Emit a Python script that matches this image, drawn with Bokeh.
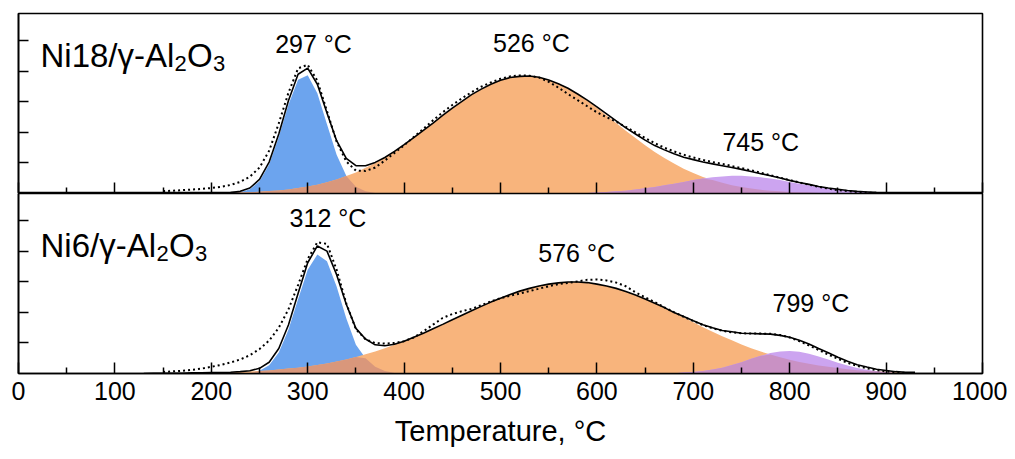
import numpy as np
from bokeh.plotting import figure
from bokeh.layouts import column
from bokeh.models import (ColumnDataSource, Range1d, SingleIntervalTicker,
                          FixedTicker, Label, LinearAxis)
from bokeh.embed import file_html
from bokeh.resources import INLINE

nan = float("nan")

# ---------------- data (temperature grid, deg C) ----------------
temps = [130, 140, 150, 160, 170, 180, 190, 200, 210, 220,
         230, 240, 250, 260, 270, 280, 290, 300, 310, 320,
         330, 340, 350, 360, 370, 380, 390, 400, 410, 420,
         430, 440, 450, 460, 470, 480, 490, 500, 510, 520,
         530, 540, 550, 560, 570, 580, 590, 600, 610, 620,
         630, 640, 650, 660, 670, 680, 690, 700, 710, 720,
         730, 740, 750, 760, 770, 780, 790, 800, 810, 820,
         830, 840, 850, 860, 870, 880, 890, 900, 910, 920,
         930]

# Ni18/gamma-Al2O3 (top panel)
ni18_peak1 = [0, 0, 0, 0, 0, 0, 0, 0, 0, 0.01,
              0.04, 0.14, 0.40, 0.95, 1.85, 2.91, 3.73, 3.88, 3.29, 2.27,
              1.27, 0.58, 0.22, 0.07, 0.02, 0, 0, 0, 0, 0,
              0, 0, 0, 0, 0, 0, 0, 0, 0, 0,
              0, 0, 0, 0, 0, 0, 0, 0, 0, 0,
              0, 0, 0, 0, 0, 0, 0, 0, 0, 0,
              0, 0, 0, 0, 0, 0, 0, 0, 0, 0,
              0, 0, 0, 0, 0, 0, 0, 0, 0, 0,
              0]
ni18_peak2 = [0, 0, 0, 0, 0, 0.01, 0.01, 0.01, 0.02, 0.02,
              0.03, 0.04, 0.06, 0.08, 0.10, 0.13, 0.18, 0.23, 0.29, 0.37,
              0.46, 0.57, 0.69, 0.84, 1.00, 1.18, 1.38, 1.60, 1.83, 2.07,
              2.31, 2.56, 2.80, 3.02, 3.24, 3.42, 3.58, 3.71, 3.80, 3.84,
              3.85, 3.81, 3.72, 3.60, 3.44, 3.25, 3.04, 2.81, 2.56, 2.31,
              2.06, 1.82, 1.58, 1.36, 1.16, 0.98, 0.81, 0.67, 0.54, 0.44,
              0.35, 0.27, 0.21, 0.16, 0.12, 0.09, 0.07, 0.05, 0.04, 0.03,
              0.02, 0.01, 0.01, 0.01, 0, 0, 0, 0, 0, 0,
              0]
ni18_peak3 = [0, 0, 0, 0, 0, 0, 0, 0, 0, 0,
              0, 0, 0, 0, 0, 0, 0, 0, 0, 0,
              0, 0, 0, 0, 0, 0, 0, 0, 0, 0,
              0, 0, 0, 0, 0, 0, 0, 0, 0, 0,
              0, 0, 0, 0, 0.01, 0.01, 0.02, 0.03, 0.05, 0.07,
              0.09, 0.13, 0.17, 0.21, 0.27, 0.32, 0.38, 0.44, 0.49, 0.53,
              0.56, 0.58, 0.58, 0.56, 0.53, 0.49, 0.44, 0.38, 0.32, 0.27,
              0.21, 0.17, 0.13, 0.09, 0.07, 0.05, 0.03, 0.02, 0.01, 0.01,
              0]
ni18_measured = [nan, nan, 0.08, 0.09, 0.11, 0.13, 0.15, 0.18, 0.22, 0.28,
                 0.38, 0.55, 0.85, 1.40, 2.30, 3.30, 4.10, 4.22, 3.70, 2.70,
                 1.70, 1.05, 0.75, 0.74, 0.85, 1.08, 1.33, 1.58, 1.85, 2.12,
                 2.40, 2.66, 2.90, 3.12, 3.32, 3.50, 3.64, 3.76, 3.84, 3.87,
                 3.86, 3.80, 3.66, 3.47, 3.26, 3.06, 2.86, 2.66, 2.50, 2.36,
                 2.18, 2.00, 1.82, 1.65, 1.50, 1.38, 1.27, 1.18, 1.10, 1.03,
                 0.97, 0.90, 0.83, 0.76, 0.68, 0.60, 0.52, 0.44, 0.36, 0.29,
                 0.22, 0.16, 0.11, 0.08, 0.05, 0.03, 0.02, 0.01, 0, 0,
                 0]

# Ni6/gamma-Al2O3 (bottom panel)
ni6_peak1 = [0, 0, 0, 0, 0, 0, 0, 0, 0, 0,
             0.01, 0.02, 0.09, 0.27, 0.69, 1.43, 2.43, 3.40, 3.90, 3.68,
             2.85, 1.81, 0.94, 0.50, 0.22, 0.08, 0.02, 0, 0, 0,
             0, 0, 0, 0, 0, 0, 0, 0, 0, 0,
             0, 0, 0, 0, 0, 0, 0, 0, 0, 0,
             0, 0, 0, 0, 0, 0, 0, 0, 0, 0,
             0, 0, 0, 0, 0, 0, 0, 0, 0, 0,
             0, 0, 0, 0, 0, 0, 0, 0, 0, 0,
             0]
ni6_peak2 = [0, 0.01, 0.01, 0.01, 0.01, 0.02, 0.02, 0.03, 0.03, 0.04,
             0.05, 0.07, 0.08, 0.10, 0.13, 0.16, 0.19, 0.23, 0.28, 0.33,
             0.39, 0.46, 0.54, 0.63, 0.72, 0.83, 0.94, 1.06, 1.19, 1.32,
             1.47, 1.61, 1.76, 1.91, 2.06, 2.20, 2.34, 2.47, 2.59, 2.70,
             2.79, 2.87, 2.93, 2.97, 3.00, 3.00, 2.98, 2.93, 2.87, 2.79,
             2.69, 2.57, 2.44, 2.30, 2.15, 1.99, 1.84, 1.68, 1.52, 1.37,
             1.22, 1.09, 0.95, 0.83, 0.72, 0.62, 0.53, 0.45, 0.38, 0.32,
             0.26, 0.22, 0.18, 0.14, 0.11, 0.09, 0.07, 0.06, 0.04, 0.03,
             0.03]
ni6_peak3 = [0, 0, 0, 0, 0, 0, 0, 0, 0, 0,
             0, 0, 0, 0, 0, 0, 0, 0, 0, 0,
             0, 0, 0, 0, 0, 0, 0, 0, 0, 0,
             0, 0, 0, 0, 0, 0, 0, 0, 0, 0,
             0, 0, 0, 0, 0, 0, 0, 0, 0, 0,
             0, 0, 0, 0, 0.01, 0.01, 0.03, 0.05, 0.08, 0.13,
             0.19, 0.28, 0.37, 0.48, 0.58, 0.67, 0.72, 0.74, 0.71, 0.65,
             0.56, 0.46, 0.35, 0.26, 0.18, 0.12, 0.07, 0.04, 0.02, 0.01,
             0.01]
ni6_measured = [nan, nan, 0.05, 0.07, 0.09, 0.12, 0.16, 0.22, 0.28, 0.36,
                0.46, 0.60, 0.80, 1.08, 1.50, 2.10, 2.90, 3.75, 4.30, 4.25,
                3.40, 2.30, 1.45, 1.12, 1.00, 0.98, 1.00, 1.06, 1.18, 1.38,
                1.60, 1.82, 1.95, 2.04, 2.12, 2.24, 2.36, 2.47, 2.55, 2.62,
                2.70, 2.78, 2.86, 2.93, 2.97, 3.02, 3.07, 3.08, 3.05, 2.98,
                2.86, 2.66, 2.50, 2.34, 2.17, 2.01, 1.86, 1.72, 1.59, 1.48,
                1.40, 1.35, 1.32, 1.31, 1.31, 1.30, 1.26, 1.18, 1.06, 0.92,
                0.77, 0.62, 0.48, 0.35, 0.25, 0.17, 0.11, 0.07, 0.04, 0.02,
                0.01]

ni18_peak_labels = ["297 °C", "526 °C", "745 °C"]
ni6_peak_labels = ["312 °C", "576 °C", "799 °C"]

# tick positions
x_major_ticks = [0, 100, 200, 300, 400, 500, 600, 700, 800, 900, 1000]
x_minor_ticks = [50, 150, 250, 350, 450, 550, 650, 750, 850, 950]
y_ticks = [1, 2, 3, 4, 5]

# ---------------- layout / style (not data) ----------------
ni18_label_pos = [(306, 4.90), (532, 4.92), (770, 1.70)]
ni6_label_pos = [(321, 5.09), (579, 3.95), (822, 2.30)]

FONT = "Liberation Sans"
C_BLUE = "#6ca4ee"
C_ORANGE = "#f8b47c"
C_PURPLE = "#cca4f0"
C_BLUE_OR = "#d9977b"
C_OR_PUR = "#c991c4"


def make_source(p1, p2, p3, meas):
    a1 = np.array(p1, dtype=float)
    a2 = np.array(p2, dtype=float)
    a3 = np.array(p3, dtype=float)
    return ColumnDataSource(dict(
        t=np.array(temps, dtype=float),
        p1=a1, p2=a2, p3=a3,
        o12=np.minimum(a1, a2), o23=np.minimum(a2, a3),
        fit=a1 + a2 + a3,
        meas=np.array(meas, dtype=float),
        zero=np.zeros(len(temps)),
    ))


def style_tickonly_axis(ax, minor_ticks, length, line=True):
    ax.ticker = FixedTicker(ticks=[], minor_ticks=minor_ticks)
    ax.major_tick_in = 0
    ax.major_tick_out = 0
    ax.minor_tick_in = length
    ax.minor_tick_out = 0
    ax.minor_tick_line_width = 1.5
    ax.minor_tick_line_color = "black"
    ax.major_label_standoff = 0
    ax.axis_label_standoff = 0
    if line:
        ax.axis_line_width = 1.6
        ax.axis_line_color = "black"
    else:
        ax.axis_line_color = None


def make_panel(src, name_main, sub_x, main_baseline, labels, label_pos, bottom):
    kw = dict(frame_width=964, frame_height=180, output_backend="svg",
              toolbar_location=None, x_range=Range1d(0, 1000),
              y_range=Range1d(0, 5.9), min_border_left=18,
              min_border_right=25, background_fill_color="white",
              border_fill_color="white", x_axis_location=None,
              y_axis_location=None)
    if bottom:
        kw.update(min_border_top=0)
    else:
        kw.update(min_border_top=13, min_border_bottom=0)
    p = figure(**kw)
    p.xgrid.visible = False
    p.ygrid.visible = False
    p.outline_line_color = "black"
    p.outline_line_width = 1.6

    # fills
    p.varea(x="t", y1="zero", y2="p1", source=src, fill_color=C_BLUE)
    p.varea(x="t", y1="zero", y2="p2", source=src, fill_color=C_ORANGE)
    p.varea(x="t", y1="zero", y2="p3", source=src, fill_color=C_PURPLE)
    p.varea(x="t", y1="zero", y2="o12", source=src, fill_color=C_BLUE_OR)
    p.varea(x="t", y1="zero", y2="o23", source=src, fill_color=C_OR_PUR)
    # fitted envelope and measured profile
    p.line(x="t", y="fit", source=src, line_color="black", line_width=1.6)
    p.line(x="t", y="meas", source=src, line_color="black", line_width=2,
           line_dash="2 3")

    # y axis: unlabeled inward ticks
    ya = LinearAxis()
    style_tickonly_axis(ya, y_ticks, 10)
    p.add_layout(ya, "left")

    if bottom:
        xa = LinearAxis()
        xa.ticker = FixedTicker(ticks=x_major_ticks, minor_ticks=x_minor_ticks)
        xa.major_tick_in = 11
        xa.major_tick_out = 0
        xa.minor_tick_in = 6
        xa.minor_tick_out = 0
        xa.major_tick_line_width = 1.5
        xa.minor_tick_line_width = 1.5
        xa.axis_line_width = 1.6
        xa.axis_line_color = "black"
        xa.major_label_text_font = FONT
        xa.major_label_text_font_size = "25px"
        xa.major_label_text_color = "black"
        xa.major_label_standoff = 8
        xa.axis_label = "Temperature, °C"
        xa.axis_label_text_font = FONT
        xa.axis_label_text_font_size = "29px"
        xa.axis_label_text_font_style = "normal"
        xa.axis_label_text_color = "black"
        xa.axis_label_standoff = 12
        p.add_layout(xa, "below")
    else:
        xa1 = LinearAxis()
        style_tickonly_axis(xa1, x_major_ticks, 11)
        p.add_layout(xa1, "below")
        xa2 = LinearAxis()
        style_tickonly_axis(xa2, x_minor_ticks, 6, line=False)
        p.add_layout(xa2, "below")

    # sample name with subscripts
    sub_base = main_baseline - 8
    x0 = 22
    pieces = [(name_main, x0, main_baseline, "33px"),
              ("2", sub_x, sub_base, "22px"),
              ("O", sub_x + 12.5, main_baseline, "33px"),
              ("3", sub_x + 38.5, sub_base, "22px")]
    for txt, xx, yy, fs in pieces:
        p.add_layout(Label(x=xx, y=yy, x_units="screen", y_units="screen",
                           text=txt, text_font=FONT, text_font_size=fs,
                           text_color="black", text_baseline="alphabetic",
                           text_align="left"))

    for txt, (lx, ly) in zip(labels, label_pos):
        p.add_layout(Label(x=lx, y=ly, text=txt, text_font=FONT,
                           text_font_size="25px", text_color="black",
                           text_align="center", text_baseline="middle"))
    return p


src_top = make_source(ni18_peak1, ni18_peak2, ni18_peak3, ni18_measured)
src_bot = make_source(ni6_peak1, ni6_peak2, ni6_peak3, ni6_measured)

p_top = make_panel(src_top, "Ni18/γ-Al", 156, 138, ni18_peak_labels,
                   ni18_label_pos, bottom=False)
p_bot = make_panel(src_bot, "Ni6/γ-Al", 138, 128, ni6_peak_labels,
                   ni6_label_pos, bottom=True)

layout = column(p_top, p_bot, spacing=0)

open("out.html", "w").write(file_html(layout, INLINE))
